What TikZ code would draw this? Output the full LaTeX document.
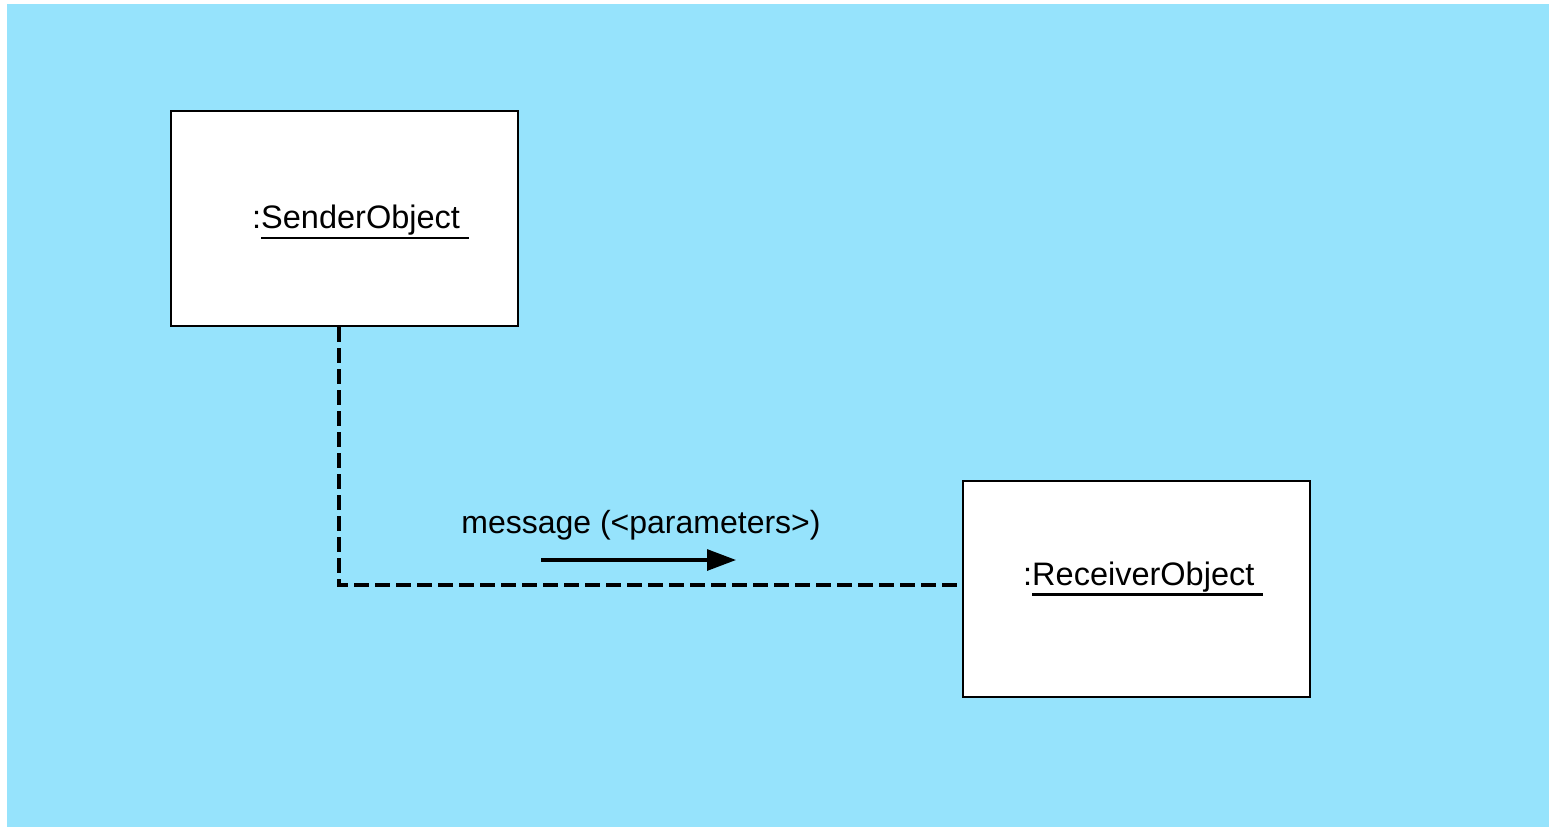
\documentclass[tikz,border=0pt]{standalone}
\usepackage{fontspec}
\setmainfont{Liberation Sans}
\usetikzlibrary{arrows.meta}
\definecolor{bgblue}{RGB}{150,227,252}
\newcommand\myul[1]{\leavevmode\vtop{\hbox{#1}\kern1.5pt\hrule height 2.7pt}}
\tikzset{
  objbox/.style={draw=black, fill=white, line width=2.8pt, rectangle, inner sep=0pt},
  objlabel/.style={inner sep=0pt, font=\fontsize{32.5}{38}\selectfont, anchor=base west},
  msglabel/.style={inner sep=0pt, font=\fontsize{32}{38}\selectfont, anchor=base},
  lifeline/.style={draw=black, line width=3.05pt, dash pattern=on 14.5pt off 6.5pt},
  msgarrow/.style={draw=black, line width=3.05pt, -{Triangle[length=29pt,width=21pt]}}
}
\begin{document}
\begin{tikzpicture}[x=1pt,y=-1pt]
\useasboundingbox (0,0) rectangle (1549,827);
\fill[bgblue] (7,4) rectangle (1549,827);
\node[objbox, minimum width=347pt, minimum height=215pt] (sender) at (344.5,218.5) {};
\node[objbox, minimum width=347pt, minimum height=216pt] (receiver) at (1136.5,589) {};
\node[objlabel] (sendertext) at (252,228.5) {:\myul{SenderObject\ }};
\node[objlabel] (receivertext) at (1023,585) {:\myul{ReceiverObject\ }};
\coordinate (corner) at (339,585);
\draw[lifeline] (corner |- sender.south) -- (corner) -- (receiver.west |- corner);
\node[msglabel] (msg) at (641,533) {message (<parameters>)};
\coordinate (msgA) at (541,560);
\coordinate (msgB) at (736,560);
\draw[msgarrow] (msgA) -- (msgB);
\end{tikzpicture}
\end{document}
